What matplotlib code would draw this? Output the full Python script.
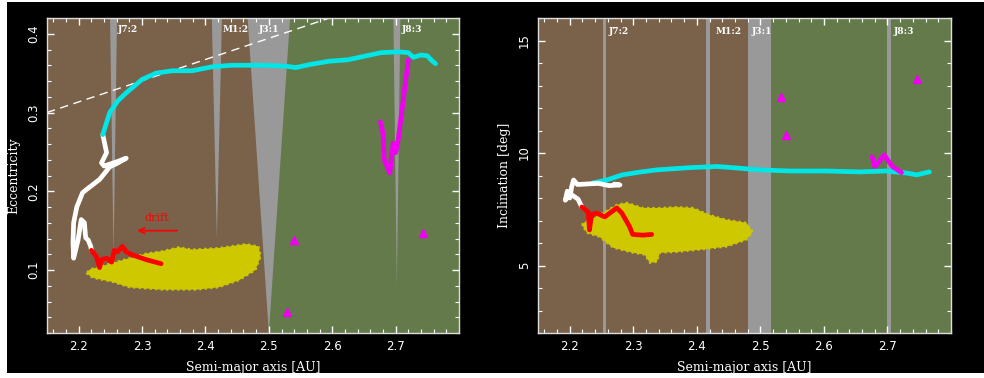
import matplotlib
matplotlib.use("Agg")
import matplotlib.pyplot as plt
from matplotlib.patches import Rectangle, Polygon
from matplotlib.ticker import MultipleLocator, FormatStrFormatter

# ---------------- data ----------------
# Left panel: semi-major axis [AU] vs eccentricity
red_a_e = [2.220, 2.228, 2.233, 2.236, 2.244, 2.252, 2.256, 2.261, 2.269, 2.275, 2.285, 2.307, 2.330]
red_e = [0.125, 0.117, 0.103, 0.113, 0.115, 0.110, 0.125, 0.123, 0.130, 0.123, 0.119, 0.113, 0.108]

white_a_e = [2.238, 2.244, 2.236, 2.240, 2.262, 2.275, 2.262, 2.249, 2.233, 2.212, 2.206, 2.197,
             2.192, 2.191, 2.192, 2.199, 2.204, 2.209, 2.211, 2.215, 2.219, 2.220]
white_e = [0.272, 0.249, 0.236, 0.232, 0.238, 0.242, 0.236, 0.231, 0.215, 0.202, 0.198, 0.180,
           0.160, 0.135, 0.115, 0.138, 0.164, 0.160, 0.141, 0.138, 0.130, 0.125]

cyan_a_e = [2.238, 2.249, 2.262, 2.275, 2.300, 2.322, 2.348, 2.379, 2.410, 2.442, 2.490, 2.526,
            2.542, 2.565, 2.594, 2.625, 2.677, 2.704, 2.720, 2.728, 2.740, 2.750, 2.757, 2.763]
cyan_e = [0.272, 0.300, 0.315, 0.325, 0.342, 0.350, 0.353, 0.353, 0.358, 0.360, 0.360, 0.359,
          0.357, 0.361, 0.365, 0.367, 0.376, 0.377, 0.376, 0.370, 0.373, 0.372, 0.366, 0.362]

magenta_a_e = [2.676, 2.680, 2.682, 2.691, 2.693, 2.696, 2.700, 2.704, 2.712, 2.720]
magenta_e = [0.288, 0.274, 0.240, 0.223, 0.240, 0.261, 0.249, 0.265, 0.316, 0.367]

tri_a_e = [2.539, 2.528, 2.743]
tri_e = [0.138, 0.047, 0.147]

# Family cloud outline (a, e)
cloud_a_e = [2.212, 2.222, 2.253, 2.280, 2.332, 2.385, 2.421, 2.453, 2.479, 2.487, 2.484,
             2.464, 2.421, 2.379, 2.358, 2.332, 2.307, 2.280, 2.253, 2.233, 2.218]
cloud_e = [0.096, 0.090, 0.085, 0.078, 0.075, 0.075, 0.078, 0.087, 0.100, 0.117, 0.130,
           0.133, 0.128, 0.126, 0.129, 0.124, 0.121, 0.115, 0.109, 0.104, 0.101]

# Right panel: semi-major axis [AU] vs inclination [deg]
red_a_i = [2.219, 2.229, 2.231, 2.233, 2.235, 2.242, 2.255, 2.263, 2.274, 2.282, 2.294, 2.299, 2.315, 2.329]
red_i = [7.60, 7.38, 6.58, 7.00, 7.27, 7.33, 7.16, 7.33, 7.56, 7.33, 6.73, 6.38, 6.35, 6.38]

white_a_i = [2.219, 2.213, 2.200, 2.193, 2.196, 2.200, 2.203, 2.206, 2.212, 2.225, 2.245, 2.262, 2.279, 2.270]
white_i = [7.60, 7.95, 8.20, 7.90, 8.30, 8.00, 8.50, 8.80, 8.60, 8.62, 8.65, 8.55, 8.58, 8.62]

cyan_a_i = [2.236, 2.258, 2.283, 2.310, 2.337, 2.389, 2.431, 2.456, 2.499, 2.546, 2.604, 2.656,
            2.698, 2.730, 2.746, 2.766]
cyan_i = [8.67, 8.80, 9.03, 9.15, 9.25, 9.35, 9.40, 9.35, 9.25, 9.20, 9.20, 9.16,
          9.20, 9.11, 9.03, 9.16]

magenta_a_i = [2.676, 2.680, 2.685, 2.695, 2.700, 2.708, 2.722]
magenta_i = [9.83, 9.40, 9.55, 9.92, 9.70, 9.40, 9.13]

tri_a_i = [2.532, 2.541, 2.746]
tri_i = [12.5, 10.8, 13.3]

cloud_a_i = [2.219, 2.224, 2.242, 2.274, 2.290, 2.315, 2.342, 2.368, 2.394, 2.420, 2.447, 2.478,
             2.488, 2.478, 2.447, 2.404, 2.368, 2.342, 2.337, 2.326, 2.318, 2.299, 2.268, 2.247, 2.227]
cloud_i = [6.81, 6.94, 7.17, 7.70, 7.79, 7.56, 7.56, 7.60, 7.56, 7.25, 7.03, 6.90,
           6.50, 6.14, 5.84, 5.70, 5.60, 5.57, 5.16, 5.12, 5.48, 5.57, 5.79, 6.27, 6.45]

# Mean-motion resonances: name, centre [AU]
res_names = ["J7:2", "M1:2", "J3:1", "J8:3"]
res_centres = [2.255, 2.418, 2.500, 2.702]
# half-widths at the top of the eccentricity panel and tip eccentricity
res_halfwidth_e = [0.0055, 0.008, 0.0335, 0.0055]
res_tip_e = [0.12, 0.14, 0.02, 0.08]
# band limits in the inclination panel
res_band_i = [(2.2525, 2.2575), (2.415, 2.421), (2.481, 2.517), (2.700, 2.706)]
res_label_a_e = [2.262, 2.427, 2.484, 2.709]
res_label_a_i = [2.261, 2.429, 2.486, 2.710]

q_mars = 1.505  # perihelion distance of the Mars-crossing boundary [AU]

# ---------------- style ----------------
BROWN = "#7a6149"
GREEN = "#647a4b"
GRAY = "#999999"
YELLOW = "#cdc800"
CYAN = "#00e6e6"
MAGENTA = "#f000f0"
RED = "#ff0000"

XMIN, XMAX = 2.15, 2.80
XTICKS = [2.2, 2.3, 2.4, 2.5, 2.6, 2.7]

fig = plt.figure(figsize=(9.84, 3.78), dpi=100, facecolor="white")
fig.patches.append(Rectangle((7 / 984, 5 / 378), 1.0, 371 / 378, transform=fig.transFigure,
                             facecolor="black", edgecolor="none", zorder=-10))

ax1 = fig.add_axes([47 / 984, 45 / 378, 412 / 984, 315 / 378])
ax2 = fig.add_axes([538 / 984, 45 / 378, 413 / 984, 315 / 378])


def style_axes(ax, yticks, yminor, fmt, ylabel):
    ax.set_xlim(XMIN, XMAX)
    ax.set_xticks(XTICKS)
    ax.xaxis.set_minor_locator(MultipleLocator(0.02))
    ax.set_yticks(yticks)
    ax.yaxis.set_minor_locator(MultipleLocator(yminor))
    ax.yaxis.set_major_formatter(fmt)
    ax.tick_params(which="both", direction="in", top=True, right=True, colors="white",
                   labelcolor="white", labelsize=8.5)
    ax.tick_params(which="major", length=5, width=1)
    ax.tick_params(which="minor", length=3, width=0.8)
    ax.tick_params(axis="both", pad=5)
    for lab in ax.get_yticklabels():
        lab.set_rotation(90)
        lab.set_va("center")
    for s in ax.spines.values():
        s.set_color("#dddddd")
        s.set_linewidth(1)
    ax.set_xlabel("Semi-major axis [AU]", color="white", family="DejaVu Serif", fontsize=9,
                  labelpad=6)
    ax.set_ylabel(ylabel, color="white", family="DejaVu Serif", fontsize=9, labelpad=5)


track_kw = dict(lw=3.4, solid_capstyle="round", solid_joinstyle="round")

# ---------- eccentricity panel ----------
ax1.set_ylim(0.02, 0.42)
ax1.axvspan(XMIN, 2.5, color=BROWN, lw=0, zorder=0)
ax1.axvspan(2.5, XMAX, color=GREEN, lw=0, zorder=0)
for c, hw, tip in zip(res_centres, res_halfwidth_e, res_tip_e):
    top = 0.42
    ax1.add_patch(Polygon([(c - hw, top), (c + hw, top), (c, tip)], closed=True,
                          facecolor=GRAY, edgecolor="none", zorder=1))
for name, xa in zip(res_names, res_label_a_e):
    ax1.text(xa, 0.405, name, color="white", fontsize=6.5, fontweight="bold",
             family="DejaVu Serif", va="center", ha="left", zorder=6)

ax1.plot([XMIN, 2.6], [1 - q_mars / XMIN, 1 - q_mars / 2.6], color="white", lw=1,
         dashes=(6, 4), zorder=2)

ax1.add_patch(Polygon(list(zip(cloud_a_e, cloud_e)), closed=True, facecolor=YELLOW,
                      edgecolor=YELLOW, lw=1.5, linestyle=":", zorder=2))
ax1.plot(white_a_e, white_e, color="white", zorder=4, **track_kw)
ax1.plot(red_a_e, red_e, color=RED, zorder=5, **track_kw)
ax1.plot(cyan_a_e, cyan_e, color=CYAN, zorder=4, **track_kw)
ax1.plot(magenta_a_e, magenta_e, color=MAGENTA, zorder=5, **track_kw)
ax1.plot(tri_a_e, tri_e, "^", color=MAGENTA, ms=6, ls="none", zorder=5)

ax1.annotate("", xy=(2.288, 0.150), xytext=(2.360, 0.150),
             arrowprops=dict(arrowstyle="->", color=RED, lw=1.2), zorder=6)
ax1.text(2.324, 0.166, "drift", color=RED, fontsize=8, family="DejaVu Serif",
         ha="center", va="center", zorder=6)

style_axes(ax1, [0.1, 0.2, 0.3, 0.4], 0.02, FormatStrFormatter("%.1f"), "Eccentricity")

# ---------- inclination panel ----------
ax2.set_ylim(2, 16)
ax2.axvspan(XMIN, 2.5, color=BROWN, lw=0, zorder=0)
ax2.axvspan(2.5, XMAX, color=GREEN, lw=0, zorder=0)
for (lo, hi) in res_band_i:
    ax2.axvspan(lo, hi, color=GRAY, lw=0, zorder=1)
for name, xa in zip(res_names, res_label_a_i):
    ax2.text(xa, 15.4, name, color="white", fontsize=6.5, fontweight="bold",
             family="DejaVu Serif", va="center", ha="left", zorder=6)

ax2.add_patch(Polygon(list(zip(cloud_a_i, cloud_i)), closed=True, facecolor=YELLOW,
                      edgecolor=YELLOW, lw=1.5, linestyle=":", zorder=2))
ax2.plot(cyan_a_i, cyan_i, color=CYAN, zorder=4, **track_kw)
ax2.plot(white_a_i, white_i, color="white", zorder=4, **track_kw)
ax2.plot(red_a_i, red_i, color=RED, zorder=5, **track_kw)
ax2.plot(magenta_a_i, magenta_i, color=MAGENTA, zorder=5, **track_kw)
ax2.plot(tri_a_i, tri_i, "^", color=MAGENTA, ms=6, ls="none", zorder=5)

style_axes(ax2, [5, 10, 15], 1, FormatStrFormatter("%d"), "Inclination [deg]")

fig.savefig("out.png", dpi=100, facecolor=fig.get_facecolor())
